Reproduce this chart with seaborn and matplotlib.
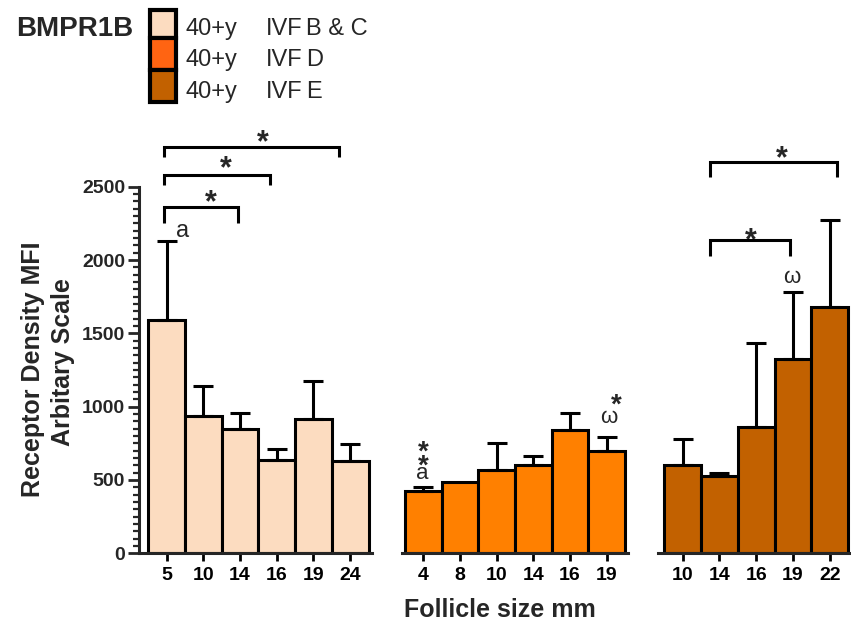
import numpy as np
import pandas as pd
import matplotlib
matplotlib.use("Agg")
import matplotlib.pyplot as plt
import seaborn as sns
from matplotlib.patches import Rectangle
from matplotlib.ticker import MultipleLocator

sns.set_theme(style="ticks")
plt.rcParams["font.family"] = ["Liberation Sans", "DejaVu Sans"]

# Follicle sizes (mm) for each IVF cohort
sizes_bc = ["5", "10", "14", "16", "19", "24"]
sizes_d = ["4", "8", "10", "14", "16", "19"]
sizes_e = ["10", "14", "16", "19", "22"]

# Mean BMPR1B receptor density (MFI) and SEM
mfi_bc = [1591, 939, 846, 636, 914, 630]
sem_bc = [539, 202, 113, 77, 261, 113]
mfi_d = [425, 488, 568, 602, 841, 700]
sem_d = [25, 0, 182, 64, 114, 91]
mfi_e = [602, 527, 859, 1325, 1678]
sem_e = [176, 19, 578, 460, 596]

cohort_age = "40+y"
cohort_clinic = "IVF"
cohort_names = ["B & C", "D", "E"]
bar_colors = ["#FCDCC0", "#FF8000", "#C26100"]
key_colors = ["#FCDCC0", "#FF6412", "#C26100"]

W, H = 851, 621
fig = plt.figure(figsize=(W / 100, H / 100), dpi=100)
LW = 2.2


def px_axes(left, right, bottom=553.3, top=186.7):
    return fig.add_axes([left / W, 1 - bottom / H, (right - left) / W, (bottom - top) / H])


def draw_group(ax, sizes, mfi, sem, color, xlim):
    df = pd.DataFrame({"size": sizes, "mfi": mfi})
    sns.barplot(data=df, x="size", y="mfi", order=sizes, color=color, saturation=1,
                width=1, edgecolor="black", linewidth=LW, ax=ax, zorder=2)
    xs = np.arange(len(sizes))
    sem = np.asarray(sem, dtype=float)
    m = sem > 0
    ax.errorbar(xs[m], np.asarray(mfi)[m], yerr=[np.zeros(m.sum()), sem[m]], fmt="none",
                ecolor="black", elinewidth=LW, capsize=7.5, capthick=LW, zorder=3)
    ax.set_xlim(*xlim)
    ax.set_ylim(0, 2500)
    ax.set_xlabel("")
    ax.set_ylabel("")
    for s in ("top", "right"):
        ax.spines[s].set_visible(False)
    ax.spines["bottom"].set_linewidth(LW)
    ax.spines["left"].set_linewidth(LW)
    ax.tick_params(axis="x", length=6, width=2, labelsize=14, pad=4, colors="black")
    for t in ax.get_xticklabels():
        t.set_fontweight("bold")
    ax.patch.set_alpha(0)


ax1 = px_axes(139, 371.7)
ax2 = px_axes(401.7, 628)
ax3 = px_axes(658, 851)

draw_group(ax1, sizes_bc, mfi_bc, sem_bc, bar_colors[0], (-0.755, 5.586))
draw_group(ax2, sizes_d, mfi_d, sem_d, bar_colors[1], (-0.59, 5.58))
draw_group(ax3, sizes_e, mfi_e, sem_e, bar_colors[2], (-0.67, 4.58))

ax1.yaxis.set_major_locator(MultipleLocator(500))
ax1.yaxis.set_minor_locator(MultipleLocator(50))
ax1.tick_params(axis="y", which="major", length=8, width=2, labelsize=14, pad=2)
ax1.tick_params(axis="y", which="minor", length=4, width=1.6)
for t in ax1.get_yticklabels():
    t.set_fontweight("bold")
for ax in (ax2, ax3):
    ax.spines["left"].set_visible(False)
    ax.set_yticks([])


def bracket(ax, x0, x1, y, y_leg):
    ax.plot([x0, x0, x1, x1], [y_leg, y, y, y_leg], color="black", lw=LW,
            clip_on=False, solid_capstyle="butt", solid_joinstyle="miter", zorder=4)


def star(ax, x, y, size=22):
    ax.annotate("*", (x, y), xytext=(0, -0.58 * size), textcoords="offset points",
                ha="center", va="baseline", fontsize=size, fontweight="bold",
                annotation_clip=False)


def mark(ax, x, y, s, size=17):
    ax.text(x, y, s, ha="center", va="baseline", fontsize=size, clip_on=False)


# cohort B & C
bracket(ax1, -0.065, 1.95, 2364, 2253)
bracket(ax1, -0.065, 2.81, 2580, 2513)
bracket(ax1, -0.065, 4.69, 2773, 2701)
star(ax1, 1.21, 2455)
star(ax1, 1.61, 2683)
star(ax1, 2.63, 2865)
mark(ax1, 0.44, 2160, "a")

# cohort D
mark(ax2, -0.04, 505, "a", 16)
star(ax2, 0.0, 650, 20)
star(ax2, 0.0, 748, 20)
mark(ax2, 5.05, 887, "ω", 16)
star(ax2, 5.27, 1068, 20)

# cohort E
bracket(ax3, 0.74, 2.92, 2138, 2028)
bracket(ax3, 0.74, 4.2, 2671, 2569)
star(ax3, 1.86, 2194)
star(ax3, 2.71, 2751)
mark(ax3, 2.97, 1842, "ω", 16)

# axis titles
fig.text(500 / W, 1 - 617.3 / H, "Follicle size mm", ha="center", va="baseline",
         fontsize=18, fontweight="bold")
fig.text(33 / W, 1 - 369 / H, "Receptor Density MFI", rotation=90, ha="center",
         va="center", fontsize=18, fontweight="bold")
fig.text(63 / W, 1 - 362 / H, "Arbitary Scale", rotation=90, ha="center",
         va="center", fontsize=18, fontweight="bold")

# key
fig.text(16 / W, 1 - 36 / H, "BMPR1B", ha="left", va="baseline", fontsize=20,
         fontweight="bold")
row_top = [10, 38, 70]
row_bot = [38, 70, 102]
baselines = [35, 66, 98.3]
for i in range(3):
    fig.patches.append(Rectangle((150 / W, 1 - row_bot[i] / H), 26 / W,
                                 (row_bot[i] - row_top[i]) / H,
                                 transform=fig.transFigure, facecolor=key_colors[i],
                                 edgecolor="black", linewidth=3, zorder=3))
    yb = 1 - baselines[i] / H
    fig.text(186 / W, yb, cohort_age, ha="left", va="baseline", fontsize=17)
    fig.text(266 / W, yb, cohort_clinic, ha="left", va="baseline", fontsize=17)
    fig.text(306 / W, yb, cohort_names[i], ha="left", va="baseline", fontsize=17)

fig.savefig("out.png", dpi=100, facecolor="white")
